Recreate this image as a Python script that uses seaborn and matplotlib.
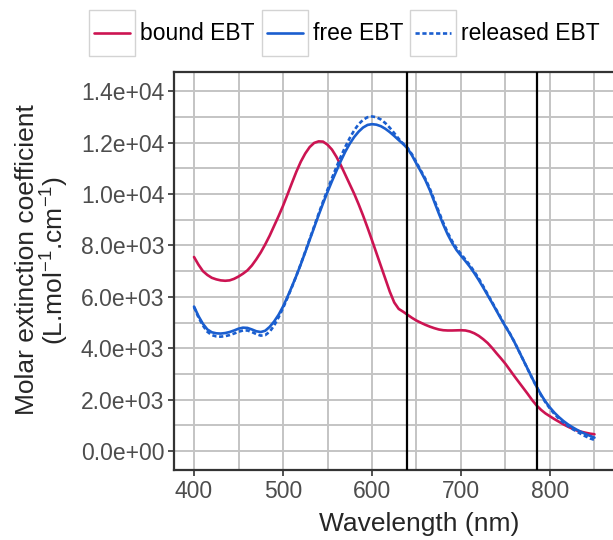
import matplotlib
matplotlib.use("Agg")
import matplotlib.pyplot as plt
import seaborn as sns
import pandas as pd
from matplotlib.lines import Line2D
from matplotlib.patches import Rectangle

sns.set_style("white")
plt.rcParams['font.family'] = ['Liberation Sans', 'DejaVu Sans']
plt.rcParams['mathtext.fontset'] = 'custom'
plt.rcParams['mathtext.rm'] = 'Liberation Sans'
plt.rcParams['mathtext.default'] = 'regular'

wavelength = list(range(400, 851, 5))

bound_ebt = [7550, 7250, 7000, 6850, 6740, 6680, 6640, 6625, 6640, 6700,
             6790, 6900, 7030, 7220, 7460, 7730, 8040, 8380, 8760, 9140,
             9540, 9980, 10430, 10870, 11260, 11580, 11830, 11990, 12050, 12040,
             11920, 11730, 11450, 11120, 10750, 10380, 10010, 9600, 9160, 8690,
             8200, 7700, 7200, 6700, 6200, 5780, 5530, 5420, 5300, 5180,
             5075, 4990, 4910, 4840, 4780, 4730, 4700, 4690, 4690, 4695,
             4700, 4690, 4650, 4580, 4480, 4350, 4200, 4010, 3800, 3600,
             3390, 3150, 2910, 2680, 2450, 2220, 1980, 1770, 1600, 1460,
             1350, 1240, 1140, 1040, 950, 870, 800, 750, 710, 675,
             650]

free_ebt = [5620, 5250, 4950, 4730, 4620, 4580, 4570, 4590, 4630, 4690,
            4760, 4800, 4790, 4730, 4660, 4630, 4680, 4830, 5040, 5300,
            5620, 6000, 6400, 6820, 7270, 7740, 8220, 8700, 9180, 9640,
            10080, 10500, 10900, 11290, 11650, 11960, 12220, 12430, 12590, 12690,
            12720, 12700, 12640, 12540, 12410, 12260, 12100, 11950, 11770, 11500,
            11180, 10870, 10540, 10150, 9700, 9250, 8820, 8430, 8100, 7820,
            7600, 7390, 7170, 6920, 6650, 6360, 6060, 5760, 5450, 5140,
            4840, 4560, 4240, 3890, 3540, 3190, 2840, 2500, 2190, 1920,
            1690, 1490, 1320, 1170, 1040, 930, 830, 740, 660, 590,
            520]

released_ebt = [5600, 5200, 4880, 4640, 4510, 4460, 4450, 4470, 4510, 4570,
                4640, 4690, 4690, 4630, 4550, 4490, 4510, 4640, 4880, 5200,
                5560, 5960, 6380, 6820, 7280, 7760, 8250, 8740, 9230, 9710,
                10170, 10620, 11050, 11460, 11840, 12180, 12480, 12720, 12890, 12990,
                13020, 12990, 12900, 12760, 12580, 12370, 12150, 11960, 11800, 11540,
                11230, 10910, 10590, 10210, 9770, 9320, 8890, 8500, 8170, 7890,
                7670, 7450, 7230, 6980, 6710, 6410, 6100, 5790, 5480, 5170,
                4860, 4570, 4250, 3900, 3540, 3180, 2830, 2490, 2170, 1890,
                1650, 1440, 1260, 1110, 980, 860, 760, 660, 570, 490,
                430]

series_names = ["bound EBT", "free EBT", "released EBT"]
series_colors = {"bound EBT": "#CC1452", "free EBT": "#1A5ECF", "released EBT": "#1A5ECF"}
vlines = [639, 785]
x_ticks = [400, 500, 600, 700, 800]
y_ticks = [0, 2000, 4000, 6000, 8000, 10000, 12000, 14000]

df = pd.DataFrame({
    "wavelength": wavelength * 3,
    "value": bound_ebt + free_ebt + released_ebt,
    "series": [s for s in series_names for _ in wavelength],
})

W, H = 613, 540
AX_L, AX_R, AX_T, AX_B = 174, 614.5, 72, 470
fig = plt.figure(figsize=(W / 100, H / 100), dpi=100)
ax = fig.add_axes([AX_L / W, 1 - AX_B / H, (AX_R - AX_L) / W, (AX_B - AX_T) / H])

# grid (major + minor)
for xv in range(400, 851, 50):
    ax.axvline(xv, color="#C4C4C4", lw=1.4, zorder=0)
for yv in range(0, 14001, 1000):
    ax.axhline(yv, color="#C4C4C4", lw=1.4, zorder=0)

sns.lineplot(data=df, x="wavelength", y="value", hue="series", style="series",
             palette=series_colors,
             dashes={"bound EBT": "", "free EBT": "", "released EBT": (1.6, 1.0)},
             linewidth=1.9, legend=False, ax=ax, zorder=3)

for v in vlines:
    ax.axvline(v, color="black", lw=1.6, zorder=4)

ax.set_xlim(377.5, 872.5)
ax.set_ylim(-740, 14750)
ax.set_xticks(x_ticks)
ax.set_yticks(y_ticks)
ax.set_yticklabels([f"{v:.1e}" for v in y_ticks])
ax.tick_params(axis="both", direction="out", length=4.5, width=1.2, color="#333333",
               labelsize=16.5, labelcolor="#4D4D4D", pad=2.5, left=True, bottom=True)
for s in ["left", "bottom", "top"]:
    ax.spines[s].set_color("#333333")
    ax.spines[s].set_linewidth(1.6)
ax.spines["right"].set_visible(False)

ax.set_xlabel("Wavelength (nm)", fontsize=19)
ax.xaxis.set_label_coords((419 - AX_L) / (AX_R - AX_L), (AX_B - 512) / (AX_B - AX_T))
ax.set_ylabel("Molar extinction coefficient\n(L.mol$^{-1}$.cm$^{-1}$)", fontsize=19,
              linespacing=1.0)
ax.yaxis.set_label_coords((71 - AX_L) / (AX_R - AX_L), (AX_B - 260) / (AX_B - AX_T))

# legend drawn at the top
def fx(px):
    return px / W

def fy(py):
    return 1 - py / H

keys = [(89, "bound EBT", ""), (262, "free EBT", ""), (410, "released EBT", (1.6, 1.0))]
for x0, name, dash in keys:
    fig.add_artist(Rectangle((fx(x0), fy(56)), 46 / W, 46 / H, transform=fig.transFigure,
                             facecolor="white", edgecolor="#D3D3D3", lw=1.0))
    ln = Line2D([fx(x0 + 5), fx(x0 + 41)], [fy(33), fy(33)], transform=fig.transFigure,
                color=series_colors[name], lw=1.9)
    if dash:
        ln.set_dashes(dash)
    fig.add_artist(ln)
    fig.text(fx(x0 + 51), fy(33), name, fontsize=16.5, va="center", ha="left", color="black")

fig.savefig("out.png", dpi=100)
